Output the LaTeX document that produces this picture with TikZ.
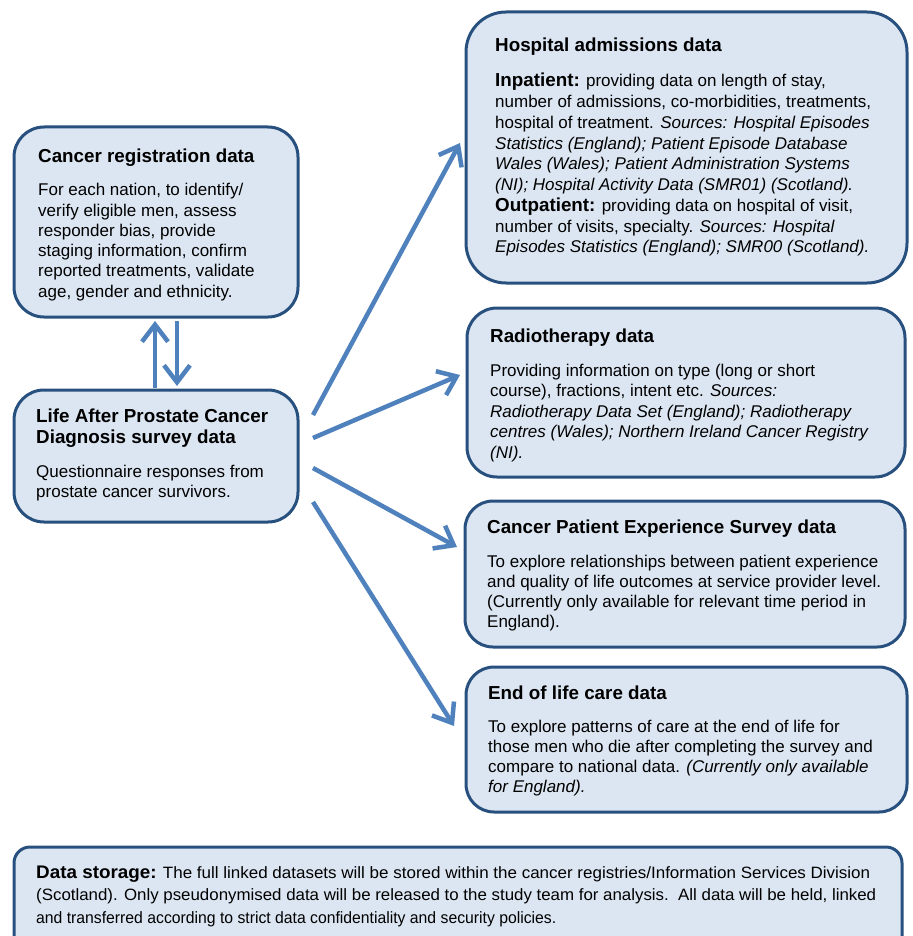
\documentclass[tikz,border=0pt]{standalone}
\usepackage{fontspec}
\usepackage{graphicx}
\setmainfont{Liberation Sans}
\usetikzlibrary{arrows.meta}
\definecolor{boxfill}{HTML}{DCE6F2}
\definecolor{boxline}{HTML}{28507F}
\definecolor{arrowblue}{HTML}{4F81BD}
\newcommand\Lines[2]{\vtop{\baselineskip=#1\lineskiplimit=-100pt\relax\halign{##\hfil\cr#2\crcr}}}
\newcommand\bodyfont{\fontsize{17}{20.6}\selectfont}
\newcommand\titlefont{\fontsize{18.8}{22}\selectfont\bfseries}
\newcommand\bigb[1]{{\fontsize{18.8}{20.6}\selectfont\bfseries #1}}
\newcommand\storefont{\fontsize{16.4}{22.5}\selectfont}
\newcommand\storeb[1]{{\fontsize{18.2}{22.5}\selectfont\bfseries #1}}
\newcommand\fitw[2]{\resizebox{#1}{\height}{#2}}
\begin{document}
\begin{tikzpicture}[x=1pt,y=-1pt,
  box/.style={draw=boxline, fill=boxfill, line width=3pt, rounded corners=#1, inner sep=0pt},
  box/.default=30pt,
  txt/.style={anchor=base west, inner sep=0pt, text=black},
  ttl/.style={txt, font=\titlefont},
  bdy/.style={txt, font=\bodyfont},
  arr/.style={draw=arrowblue, line width=4.5pt, -{Straight Barb[length=17pt,width=26pt]}}]
\useasboundingbox (0,0) rectangle (912,936);
\clip (0,0) rectangle (912,936);
\fill[white] (0,0) rectangle (912,936);

% boxes
\node[box=30pt, minimum width=284pt, minimum height=190pt] (reg) at (156,222) {};
\node[box=30pt, minimum width=284pt, minimum height=132pt] (life) at (156,456) {};
\node[box=40pt, minimum width=441pt, minimum height=271pt] (hosp) at (686.5,147.5) {};
\node[box=30pt, minimum width=438pt, minimum height=169pt] (radio) at (686,392.5) {};
\node[box=28pt, minimum width=440pt, minimum height=146pt] (cpes) at (685,574) {};
\node[box=28pt, minimum width=441pt, minimum height=145pt] (eol) at (686.5,739.5) {};
\node[box=16pt, minimum width=888pt, minimum height=130pt] (store) at (458,912) {};

% texts
\node[ttl] (regT) at (38,163) {Cancer registration data};
\node[bdy] (regB) at (38,196) {\Lines{20.2pt}{For each nation, to identify/\cr
verify eligible men, assess\cr
responder bias, provide\cr
staging information, confirm\cr
reported treatments, validate\cr
age, gender and ethnicity.}};

\node[txt] (lifeT) at (36,422) {\titlefont\Lines{21.5pt}{Life After Prostate Cancer\cr Diagnosis survey data}};
\node[bdy] (lifeB) at (36,477) {\Lines{20.2pt}{Questionnaire responses from\cr prostate cancer survivors.}};

\node[ttl] (hospT) at (495,52) {Hospital admissions data};
\node[bdy] (hospB) at (495,87) {\Lines{20.75pt}{\bigb{Inpatient:} providing data on length of stay,\cr
number of admissions, co-morbidities, treatments,\cr
hospital of treatment. \textit{Sources: Hospital Episodes}\cr
\textit{Statistics (England); Patient Episode Database}\cr
\textit{Wales (Wales); Patient Administration Systems}\cr
\textit{(NI); Hospital Activity Data (SMR01) (Scotland).}\cr
\bigb{Outpatient:} providing data on hospital of visit,\cr
number of visits, specialty. \textit{Sources: Hospital}\cr
\textit{Episodes Statistics (England); SMR00 (Scotland).}}};

\node[ttl] (radioT) at (490,342) {Radiotherapy data};
\node[bdy] (radioB) at (490,376) {\Lines{20.5pt}{Providing information on type (long or short\cr
course), fractions, intent etc. \textit{Sources:}\cr
\textit{Radiotherapy Data Set (England); Radiotherapy}\cr
\textit{centres (Wales); Northern Ireland Cancer Registry}\cr
\textit{(NI).}}};

\node[ttl] (cpesT) at (487,533) {Cancer Patient Experience Survey data};
\node[bdy] (cpesB) at (487,567) {\Lines{20.2pt}{To explore relationships between patient experience\cr
and quality of life outcomes at service provider level.\cr
(Currently only available for relevant time period in\cr
England).}};

\node[ttl] (eolT) at (488,699) {End of life care data};
\node[bdy] (eolB) at (488,732) {\Lines{20.3pt}{To explore patterns of care at the end of life for\cr
those men who die after completing the survey and\cr
compare to national data. \textit{(Currently only available}\cr
\textit{for England).}}};

\node[txt, font=\storefont] (storeB) at (36,878) {\Lines{22.5pt}{\fitw{834pt}{\storeb{Data storage:} The full linked datasets will be stored within the cancer registries/Information Services Division}\cr
\fitw{840pt}{(Scotland). Only pseudonymised data will be released to the study team for analysis.\ \ All data will be held, linked}\cr
\fitw{520pt}{and transferred according to strict data confidentiality and security policies.}}};

% connectors
\coordinate (u1) at (155,388);
\coordinate (u2) at (155,321);
\coordinate (d1) at (177,321);
\coordinate (d2) at (177,386);
\draw[arr] (u1) -- (u2);
\draw[arr] (d1) -- (d2);

\coordinate (s1) at (313,415); \coordinate (e1) at (460,143);
\coordinate (s2) at (313,438); \coordinate (e2) at (460,375);
\coordinate (s3) at (313,468); \coordinate (e3) at (457,547);
\coordinate (s4) at (313,502); \coordinate (e4) at (454,726);
\draw[arr] (s1) -- (e1);
\draw[arr] (s2) -- (e2);
\draw[arr] (s3) -- (e3);
\draw[arr] (s4) -- (e4);
\end{tikzpicture}
\end{document}
